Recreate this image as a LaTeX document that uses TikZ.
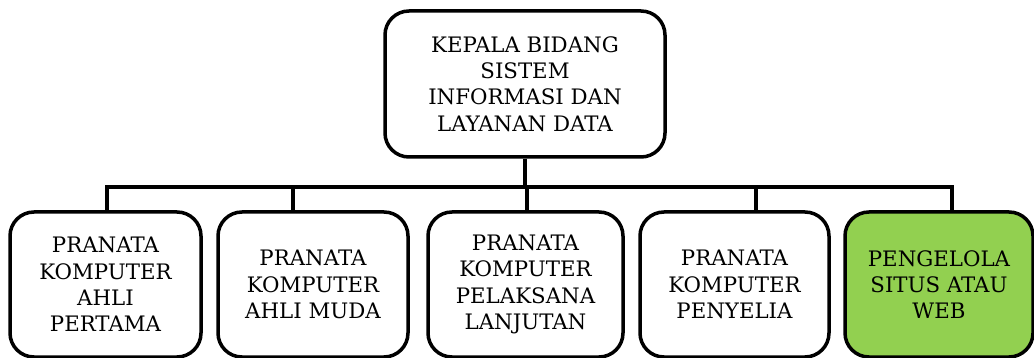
\documentclass[tikz,border=0pt]{standalone}
\usepackage{fontspec}
\setmainfont{DejaVu Serif}
\usepackage{xcolor}
\definecolor{boxgreen}{HTML}{92D050}
\begin{document}
\begin{tikzpicture}[x=1pt,y=1pt,
  orgbox/.style={draw=black, line width=3.5pt, rounded corners=24pt, align=center,
    font=\fontsize{21.3}{26.3}\selectfont, inner sep=0pt, fill=white},
  conn/.style={draw=black, line width=3.8pt}]
\useasboundingbox (0,0) rectangle (1034,-358);
\node[orgbox, minimum width=280, minimum height=146] (top) at (525,-84)
  {KEPALA BIDANG\\SISTEM\\INFORMASI DAN\\LAYANAN DATA};
\node[orgbox, minimum width=191, minimum height=145] (b1) at (105.5,-284.5)
  {PRANATA\\KOMPUTER\\AHLI\\PERTAMA};
\node[orgbox, minimum width=190, minimum height=145] (b2) at (313,-284.5)
  {PRANATA\\KOMPUTER\\AHLI MUDA};
\node[orgbox, minimum width=195, minimum height=145] (b3) at (525.5,-284.5)
  {PRANATA\\KOMPUTER\\PELAKSANA\\LANJUTAN};
\node[orgbox, minimum width=189, minimum height=145] (b4) at (734.5,-284.5)
  {PRANATA\\KOMPUTER\\PENYELIA};
\node[orgbox, fill=boxgreen, minimum width=188, minimum height=145] (b5) at (939,-284.5)
  {PENGELOLA\\SITUS ATAU\\WEB};
\coordinate (bus) at (0,-187);
\coordinate (s1) at ([xshift=1.5pt]b1.north);
\coordinate (s2) at ([xshift=-20pt]b2.north);
\coordinate (s3) at ([xshift=1.5pt]b3.north);
\coordinate (s4) at ([xshift=21.5pt]b4.north);
\coordinate (s5) at ([xshift=13pt]b5.north);
\draw[conn] (top.south) -- (top.south |- bus);
\draw[conn, line cap=rect] (s1 |- bus) -- (s5 |- bus);
\foreach \s in {s1,s2,s3,s4,s5}
  \draw[conn] (\s) -- (\s |- bus);
\end{tikzpicture}
\end{document}
